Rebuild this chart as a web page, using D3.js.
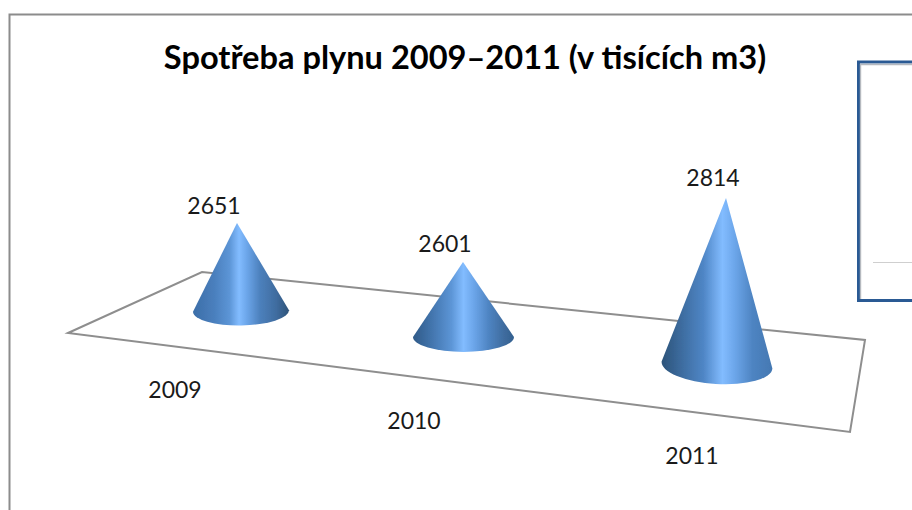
<!DOCTYPE html>
<html><head><meta charset="utf-8">
<script src="https://cdn.jsdelivr.net/npm/d3@7/dist/d3.min.js"></script>
<style>html,body{margin:0;padding:0;background:#fff;overflow:hidden}svg{display:block}text{font-family:Lato,"Open Sans",sans-serif;fill:#1a1a1a}</style>
</head><body><svg id="c" width="912" height="510"></svg>
<script>
const titleText = "Spotřeba plynu 2009–2011 (v tisících m3)";
const years = ["2009","2010","2011"];
const consumption = [2651,2601,2814];

const svg = d3.select("#c");
const defs = svg.append("defs");

// Layout scales (3D perspective as it appears in the picture)
const apexX = d3.scaleOrdinal().domain(years).range([237,463,726]);
const baseCx = d3.scaleOrdinal().domain(years).range([241,463.5,717]);
const baseCy = d3.scaleOrdinal().domain(years).range([311,337,365]);
const baseRx = d3.scaleOrdinal().domain(years).range([48,50.5,55.5]);
const baseRy = d3.scaleOrdinal().domain(years).range([14.5,15,19]);
const baseTilt = d3.scaleOrdinal().domain(years).range([-1,0,3.5]);
const height = d3.scaleLinear().domain([2601,2651,2814]).range([75,88,167]);
const labelX = d3.scaleOrdinal().domain(years).range([214,445,713]);
const labelDy = d3.scaleOrdinal().domain(years).range([9.5,10,12]);
const catX = d3.scaleOrdinal().domain(years).range([175,414,692]);
const catY = d3.scaleOrdinal().domain(years).range([390,421,456]);

// Chart frame
svg.append("path").attr("d","M9.5,510V14.5H912").attr("fill","none").attr("stroke","#8c8c8c").attr("stroke-width",2);

// Legend box remnant
svg.append("path").attr("d","M912,62H858.5V300.5H912").attr("fill","#fff").attr("stroke","#2a5a94").attr("stroke-width",3);
svg.append("path").attr("d","M912,64.5H860.5V299").attr("fill","none").attr("stroke","#b5b9bf").attr("stroke-width",1.4);
svg.append("line").attr("x1",873).attr("x2",912).attr("y1",262.5).attr("y2",262.5).attr("stroke","#cfcfcf");

// Floor
svg.append("path").attr("d",d3.line()([[68,333],[202,272],[865,340],[850,432]])+"Z")
  .attr("fill","#fff").attr("stroke","#8e8e8e").attr("stroke-width",2);

// Title
svg.append("text").attr("x",465).attr("y",69).attr("text-anchor","middle")
  .attr("font-size",32.6).attr("font-weight",700).style("fill","#000").text(titleText);

// Gradients
const stopSets = {
 "2009":[[0,"#3c6ea8"],[.22,"#4a7fbd"],[.38,"#5c95d6"],[.48,"#82bcff"],[.56,"#6ca6ea"],[.7,"#4c80bc"],[.87,"#3f6c9f"],[1,"#2e5379"]],
 "2010":[[0,"#2f5a88"],[.2,"#4477b0"],[.38,"#5c95d6"],[.5,"#82bcff"],[.6,"#6ca6ea"],[.75,"#4e84c2"],[.9,"#3f6c9f"],[1,"#33608f"]],
 "2011":[[0,"#2c5379"],[.18,"#3d6c9f"],[.38,"#4f86c6"],[.55,"#82bcff"],[.66,"#6ca6ea"],[.82,"#4e84c2"],[1,"#4478b2"]]
};
years.forEach(y=>{
  const g = defs.append("linearGradient").attr("id","g"+y).attr("x1",0).attr("x2",1).attr("y1",0).attr("y2",0);
  stopSets[y].forEach(s=>g.append("stop").attr("offset",s[0]).attr("stop-color",s[1]));
});
defs.append("filter").attr("id","soft").append("feGaussianBlur").attr("stdDeviation",0.45);

// Cones
const cones = years.map((y,i)=>({year:y,value:consumption[i]}));
svg.append("g").attr("filter","url(#soft)").selectAll("path").data(cones).join("path")
  .attr("fill",d=>`url(#g${d.year})`)
  .attr("d",d=>{
    const cx=baseCx(d.year),cy=baseCy(d.year),rx=baseRx(d.year),ry=baseRy(d.year),t=baseTilt(d.year);
    const rad=t*Math.PI/180;
    const lx=cx-rx*Math.cos(rad),ly=cy-rx*Math.sin(rad),rxp=cx+rx*Math.cos(rad),ryp=cy+rx*Math.sin(rad);
    const ax=apexX(d.year),ay=cy-height(d.value);
    return `M${ax},${ay}L${lx},${ly}A${rx},${ry} ${t} 0 0 ${rxp},${ryp}Z`;
  });

// Value labels
svg.append("g").selectAll("text").data(cones).join("text")
  .attr("x",d=>labelX(d.year)).attr("y",d=>baseCy(d.year)-height(d.value)-labelDy(d.year))
  .attr("text-anchor","middle").attr("font-size",23).text(d=>d.value);

// Category labels
svg.append("g").selectAll("text").data(years).join("text")
  .attr("x",d=>catX(d)).attr("y",d=>catY(d)+8)
  .attr("text-anchor","middle").attr("font-size",23).text(d=>d);
</script></body></html>
